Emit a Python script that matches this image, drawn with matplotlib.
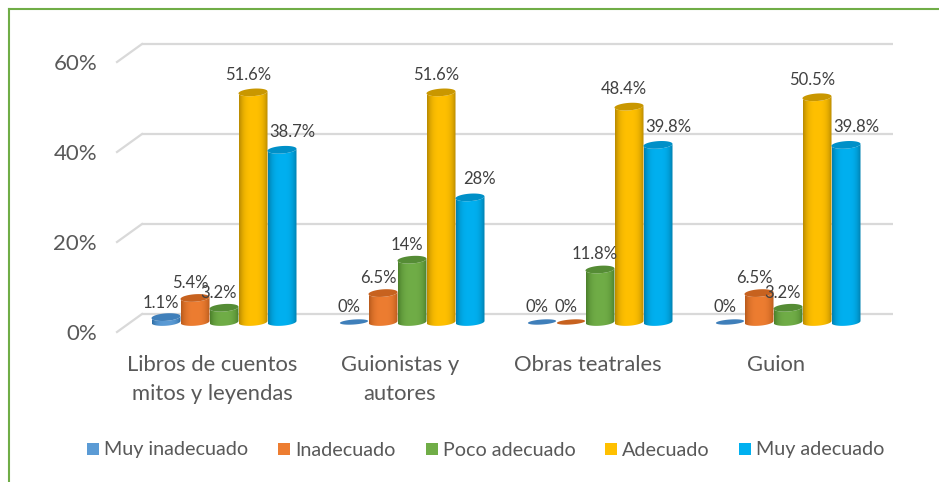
import numpy as np
import matplotlib
matplotlib.use('Agg')
import matplotlib.pyplot as plt
from matplotlib.patches import Polygon, Rectangle
from matplotlib.lines import Line2D

categories = ['Libros de cuentos\nmitos y leyendas', 'Guionistas y\nautores', 'Obras teatrales', 'Guion']
series_names = ['Muy inadecuado', 'Inadecuado', 'Poco adecuado', 'Adecuado', 'Muy adecuado']
muy_inadecuado = [1.1, 0, 0, 0]
inadecuado = [5.4, 6.5, 0, 6.5]
poco_adecuado = [3.2, 14, 11.8, 3.2]
adecuado = [51.6, 51.6, 48.4, 50.5]
muy_adecuado = [38.7, 28, 39.8, 39.8]
labels_txt = [
    ['1.1%', '0%', '0%', '0%'],
    ['5.4%', '6.5%', '0%', '6.5%'],
    ['3.2%', '14%', '11.8%', '3.2%'],
    ['51.6%', '51.6%', '48.4%', '50.5%'],
    ['38.7%', '28%', '39.8%', '39.8%'],
]
yticks = [0, 20, 40, 60]

values = [muy_inadecuado, inadecuado, poco_adecuado, adecuado, muy_adecuado]
legend_colors = ['#5B9BD5', '#ED7D31', '#70AD47', '#FFC000', '#00B0F0']
side_dark = ['#2E6DA4', '#B85A1C', '#4B7F2B', '#B88A00', '#007FAE']
top_colors = ['#3F7FBA', '#C7621F', '#558C35', '#C99700', '#0090C8']
label_dx = [-5, -5, -5, -5, 10]  # px, label vs bar centre
label_dy = [14.5, 15, 15, 17.4, 18]  # px above bar top

W, H = 939, 482
SX = 188.0   # px between groups
SY = 4.45    # px per percent, front plane of the bars
GRID = 4.5 / SY  # the wall is drawn a touch bigger than the bars
X0, Y0 = 224.0, 322.0  # px of middle bar, zero line

plt.rcParams['font.family'] = ['Lato', 'DejaVu Sans']
fig = plt.figure(figsize=(W / 100, H / 100), dpi=100)
ax = fig.add_axes([0, 0, 1, 1])
ax.axis('off')

def dx(px):
    return px / SX

def dy(px):
    return px / SY

def ring(cx, cy, w, h, tilt, t):
    # sheared ellipse, right side sits a bit higher
    return np.column_stack([cx + w / 2 * np.cos(t),
                            cy + h / 2 * np.sin(t) + tilt / 2 * np.cos(t)])

# back wall gridlines and the slanted side lines
back_x0 = dx(142 - X0)
back_x1 = dx(893 - X0)
for t in yticks:
    yb = t * GRID + dy(8)
    yf = t * GRID - dy(10)
    ax.plot([back_x0, back_x1], [yb, yb], color='#D9D9D9', lw=1.6, zorder=1, solid_capstyle='butt')
    ax.plot([dx(117 - X0), back_x0], [yf, yb], color='#D9D9D9', lw=1.6, zorder=1)
    ax.text(dx(97 - X0), yf - dy(2.5), '%d%%' % t, ha='right', va='center', fontsize=16, color='#595959')

bar_w = dx(29)
el_h = dy(7.5)
tilt = dy(2)
grad = np.linspace(0, 1, 64)
top_t = np.linspace(0, 2 * np.pi, 60)
low_t = np.linspace(np.pi, 2 * np.pi, 30)
for s, vals in enumerate(values):
    base = np.array(matplotlib.colors.to_rgb(legend_colors[s]))
    dark = np.array(matplotlib.colors.to_rgb(side_dark[s]))
    # horizontal shading of the cylinder: dark at the edges
    shade = np.abs(2 * grad - 1) ** 3
    rgb = base[None, None, :] * (1 - shade[None, :, None]) + dark[None, None, :] * shade[None, :, None]
    pos = np.arange(4) + (s - 2) * dx(29)
    bars = ax.bar(pos, vals, width=bar_w, color='none', zorder=3 + s)
    for i, b in enumerate(bars):
        v = b.get_height()
        if v > 0:
            low = ring(pos[i], 0, bar_w, el_h, tilt, low_t)
            up = low[::-1] + [0, v]
            body = Polygon(np.vstack([low, up]), closed=True, facecolor='none', edgecolor='none', zorder=3 + s)
            ax.add_patch(body)
            im = ax.imshow(rgb, extent=[pos[i] - bar_w / 2, pos[i] + bar_w / 2, -el_h, v + el_h],
                           aspect='auto', zorder=3 + s, interpolation='bilinear')
            im.set_clip_path(body)
            ax.add_patch(Polygon(ring(pos[i], v, bar_w, el_h, tilt, top_t), closed=True,
                                 facecolor=top_colors[s], edgecolor='none', zorder=3.5 + s))
        else:
            ax.add_patch(Polygon(ring(pos[i], 0, bar_w * 0.97, dy(5), tilt, top_t), closed=True,
                                 facecolor=top_colors[s], edgecolor='none', zorder=3 + s))
        ax.text(pos[i] + dx(label_dx[s]), v + dy(label_dy[s]), labels_txt[s][i], ha='center', va='center',
                fontsize=12, color='#404040', zorder=20)

ax.set_xlim(-X0 / SX, (W - X0) / SX)
ax.set_ylim((Y0 - H) / SY, Y0 / SY)

for i, c in enumerate(categories):
    parts = c.split('\n')
    ax.text(i - dx(12), dy(Y0 - 365), parts[0], ha='center', va='center', fontsize=15.8, color='#595959')
    if len(parts) > 1:
        ax.text(i - dx(12), dy(Y0 - 394.5), parts[1], ha='center', va='center', fontsize=15.8, color='#595959')

# legend
legend_x = [87, 278, 426, 605, 739]
for s, name in enumerate(series_names):
    ax.add_patch(Rectangle((dx(legend_x[s] - X0), dy(Y0 - 455)), dx(12), dy(12), facecolor=legend_colors[s], edgecolor='none'))
    ax.text(dx(legend_x[s] + 17 - X0), dy(Y0 - 450), name, ha='left', va='center', fontsize=14.2, color='#595959')

# green outer frame
green = '#70AD47'
fig.add_artist(Line2D([9 / W, 9 / W], [0, 1 - 8.5 / H], color=green, lw=1.5))
fig.add_artist(Line2D([9 / W, 1], [1 - 8.5 / H, 1 - 8.5 / H], color=green, lw=1.5))

fig.savefig('out.png', dpi=100)
